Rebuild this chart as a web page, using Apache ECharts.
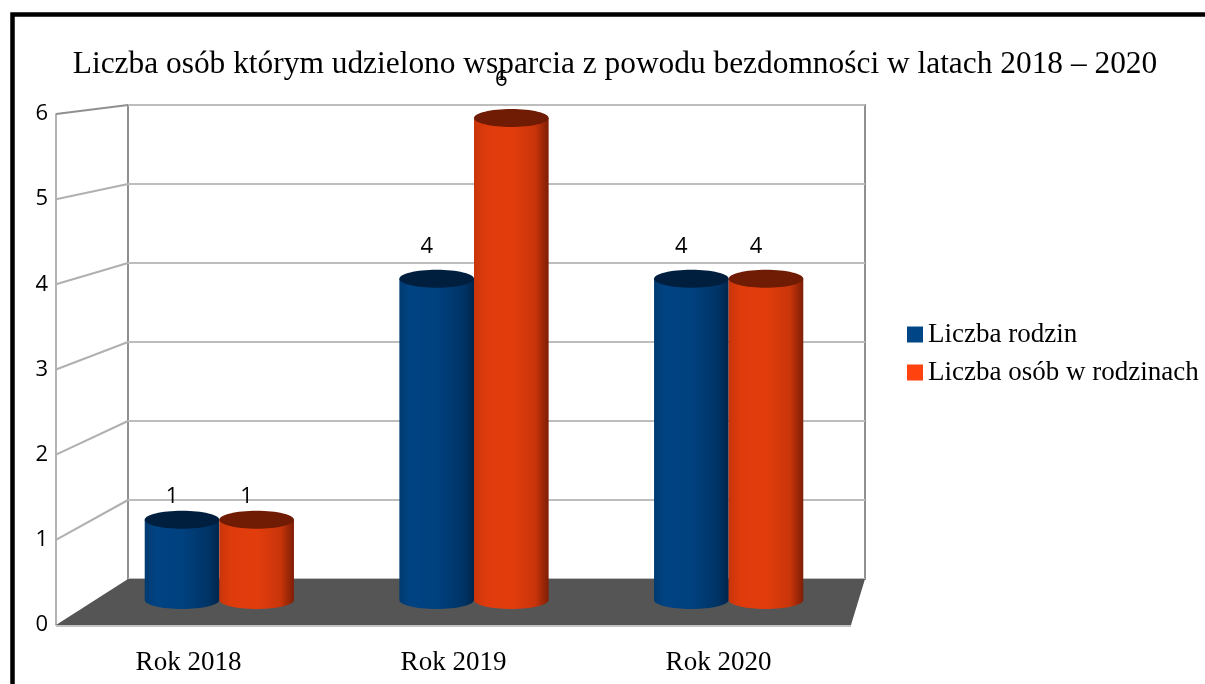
<!DOCTYPE html>
<html>
<head>
<meta charset="utf-8">
<script src="https://cdn.jsdelivr.net/npm/echarts@6/dist/echarts.min.js"></script>
<style>
  html, body { margin: 0; padding: 0; background: #fff; }
  #chart { width: 1205px; height: 684px; }
</style>
</head>
<body>
<div id="chart"></div>
<script>
// Dane wykresu
const kategorie = ['Rok 2018', 'Rok 2019', 'Rok 2020'];
const liczbaRodzin = [1, 4, 4];
const liczbaOsob = [1, 6, 4];
const nazwySerii = ['Liczba rodzin', 'Liczba osób w rodzinach'];
const podzialkaY = [0, 1, 2, 3, 4, 5, 6];

// Uklad "3D": sciana tylna, plaszczyzna przednia i srodek (gdzie stoja walce)
const tyl = { left: 128, right: 865, top: 105, bottom: 579 };
const przod = { left: 56, right: 851, top: 114, bottom: 625 };
const srodek = { left: 92, right: 856, top: 118, bottom: 600 };
const W = 1205, H = 684;

const serif = '"Liberation Serif", "Times New Roman", serif';
const sans = '"Open Sans", "Noto Sans", sans-serif';

const kolory = {
    niebieski: {
        legend: '#004586',
        top: '#001f3e',
        body: [[0, '#003a70'], [0.15, '#004383'], [0.5, '#00417f'], [0.85, '#003466'], [1, '#00264d']]
    },
    pomaranczowy: {
        legend: '#ff420e',
        top: '#701c05',
        body: [[0, '#c8350b'], [0.15, '#de3b0c'], [0.5, '#e33d0d'], [0.82, '#c9350a'], [1, '#7e1e05']]
    }
};

function gridZ(r) {
    return { left: r.left, top: r.top, width: r.right - r.left, height: r.bottom - r.top };
}

function walec(kolor, strona) {
    return function (params, api) {
        const idx = api.value(0);
        const val = api.value(1);
        const top = api.coord([idx, val]);
        const base = api.coord([idx, 0]);
        const band = api.size([1, 0])[0];
        const w = band * 0.293;
        const cx = top[0] + strona * w / 2;
        const ry = 9;
        const grad = new echarts.graphic.LinearGradient(0, 0, 1, 0,
            kolor.body.map(s => ({ offset: s[0], color: s[1] })));
        return {
            type: 'group',
            children: [
                { type: 'ellipse', shape: { cx: cx, cy: base[1], rx: w / 2, ry: ry }, style: { fill: grad } },
                { type: 'rect', shape: { x: cx - w / 2, y: top[1], width: w, height: base[1] - top[1] }, style: { fill: grad } },
                { type: 'ellipse', shape: { cx: cx, cy: top[1], rx: w / 2, ry: ry }, style: { fill: kolor.top } },
                {
                    type: 'text', x: cx - 10, y: top[1] - 20 - 3 * val,
                    style: { text: String(val), fill: '#000', font: '22px ' + sans, align: 'center', verticalAlign: 'middle' }
                }
            ]
        };
    };
}

const chart = echarts.init(document.getElementById('chart'));

const option = {
    animation: false,
    backgroundColor: '#fff',
    title: {
        text: 'Liczba osób którym udzielono wsparcia z powodu bezdomności w latach 2018 – 2020',
        left: 610, top: 44, textAlign: 'center',
        textStyle: { fontFamily: serif, fontSize: 31.4, fontWeight: 'normal', color: '#000' }
    },
    legend: {
        orient: 'vertical', left: 902, top: 316,
        itemWidth: 16, itemHeight: 16, itemGap: 11,
        icon: 'rect',
        data: nazwySerii,
        textStyle: { fontFamily: serif, fontSize: 27, color: '#000', lineHeight: 22 }
    },
    grid: [
        Object.assign(gridZ(tyl), { show: true, borderColor: '#8f8f8f', borderWidth: 2 }),
        gridZ(przod),
        gridZ(srodek)
    ],
    xAxis: [
        { type: 'category', gridIndex: 0, data: kategorie, show: false },
        {
            type: 'category', gridIndex: 1, data: kategorie,
            axisLine: { show: false }, axisTick: { show: false },
            axisLabel: { fontFamily: serif, fontSize: 27, color: '#000', margin: 24 }
        },
        { type: 'category', gridIndex: 2, data: kategorie, show: false }
    ],
    yAxis: [
        {
            type: 'value', gridIndex: 0, min: 0, max: 6, interval: 1,
            axisLabel: { show: false }, axisLine: { show: false }, axisTick: { show: false },
            splitLine: { lineStyle: { color: '#bdbdbd', width: 2 } }
        },
        {
            type: 'value', gridIndex: 1, min: 0, max: 6, interval: 1,
            axisLine: { show: true, lineStyle: { color: '#9a9a9a', width: 1.5 } },
            axisTick: { show: false }, splitLine: { show: false },
            axisLabel: { fontFamily: sans, fontSize: 22, color: '#000', margin: 8 }
        },
        { type: 'value', gridIndex: 2, min: 0, max: 6, interval: 1, show: false }
    ],
    series: [
        {
            name: nazwySerii[0], type: 'custom', xAxisIndex: 2, yAxisIndex: 2,
            itemStyle: { color: kolory.niebieski.legend },
            renderItem: walec(kolory.niebieski, -1),
            data: liczbaRodzin.map((v, i) => [i, v]),
            encode: { x: 0, y: 1 }, z: 5
        },
        {
            name: nazwySerii[1], type: 'custom', xAxisIndex: 2, yAxisIndex: 2,
            itemStyle: { color: kolory.pomaranczowy.legend },
            renderItem: walec(kolory.pomaranczowy, 1),
            data: liczbaOsob.map((v, i) => [i, v]),
            encode: { x: 0, y: 1 }, z: 5
        }
    ]
};

chart.setOption(option);

// Podloga, boczna sciana i ramka -- z pozycji osi po ich przeliczeniu
const yTyl = v => chart.convertToPixel({ yAxisIndex: 0 }, v);
const yPrzod = v => chart.convertToPixel({ yAxisIndex: 1 }, v);

const elementy = [];
elementy.push({
    type: 'polygon', z: 1,
    shape: { points: [[tyl.left, yTyl(0)], [tyl.right, yTyl(0)], [przod.right, yPrzod(0)], [przod.left, yPrzod(0)]] },
    style: { fill: '#555555' }
});
elementy.push({
    type: 'line', z: 1,
    shape: { x1: przod.left, y1: yPrzod(0) + 1, x2: przod.right, y2: yPrzod(0) + 1 },
    style: { stroke: '#c4c4c4', lineWidth: 2 }
});
podzialkaY.slice(1).forEach(v => {
    elementy.push({
        type: 'line', z: 1,
        shape: { x1: przod.left, y1: yPrzod(v), x2: tyl.left, y2: yTyl(v) },
        style: { stroke: v === 6 ? '#8f8f8f' : '#b0b0b0', lineWidth: 2 }
    });
});
elementy.push({
    type: 'polyline', z: 10,
    shape: { points: [[12.5, H], [12.5, 14.5], [W, 14.5]] },
    style: { stroke: '#000', lineWidth: 4.5, fill: null }
});

chart.setOption({ graphic: { elements: elementy } });
</script>
</body>
</html>
